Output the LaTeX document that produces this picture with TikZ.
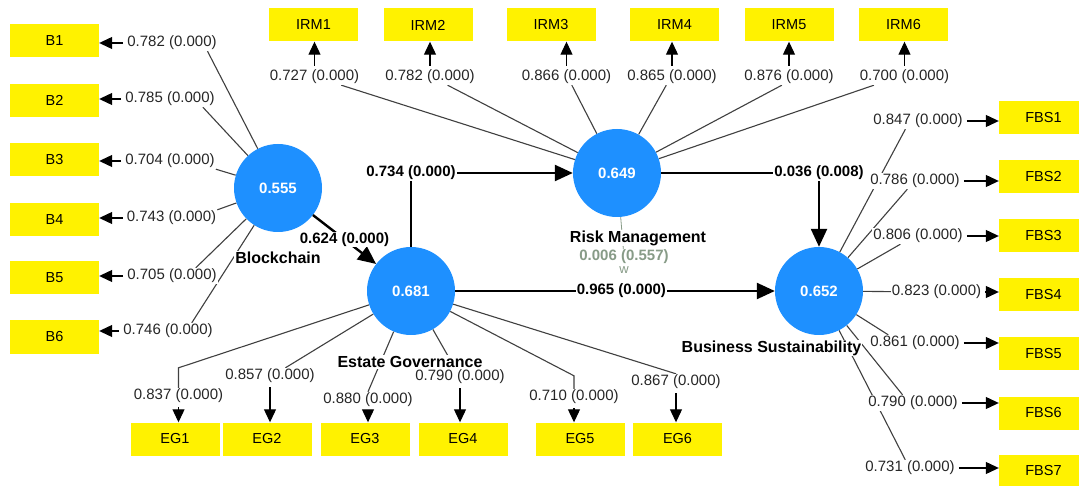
\documentclass[tikz,border=0pt]{standalone}
\usepackage{fontspec}
\setmainfont{Liberation Sans}
\usetikzlibrary{arrows.meta,backgrounds}
\definecolor{lvblue}{RGB}{30,144,255}
\definecolor{modgray}{RGB}{135,155,135}
\begin{document}
\begin{tikzpicture}[x=1pt, y=-1pt, >={Triangle[length=13pt, width=12pt]},
  lv/.style = {circle, fill=lvblue, minimum size=88pt, inner sep=0pt, text=white, font=\fontsize{15}{18}\selectfont\bfseries},
  mv/.style = {fill=yellow, minimum width=89pt, minimum height=33pt, inner sep=0pt, font=\fontsize{14.5}{17}\selectfont},
  ld/.style = {fill=white, inner sep=1pt, text=black!85, font=\fontsize{15}{18}\selectfont},
  pc/.style = {fill=white, inner sep=1pt, font=\fontsize{15}{18}\selectfont\bfseries},
  lvname/.style = {fill=white, inner sep=1pt, font=\fontsize{16}{19}\selectfont\bfseries},
  loading/.style = {line width=1.1pt, black!75},
  ind/.style = {->, line width=1.1pt, shorten <=3pt},
  pth/.style = {line width=2.4pt, -{Triangle[length=18pt, width=16pt]}}]
\useasboundingbox (0,0) rectangle (1079,486);

% latent variables
\node[lv] (bc) at (278,188) {0.555};
\node[lv] (eg) at (411,291) {0.681};
\node[lv] (rm) at (617,173) {0.649};
\node[lv] (bs) at (819,291) {0.652};
\node[lvname] (bcn) at (278,258) {Blockchain};
\node[lvname] (egn) at (410,362) {Estate Governance};
\node[lvname] (rmn) at (638,238) {Risk Management};
\node[lvname] (bsn) at (771.5,348) {Business Sustainability};

% indicators
\foreach \i/\y in {1/40.5,2/100.5,3/160,4/219.5,5/278,6/337}
  \node[mv] (B\i) at (54.5,\y) {B\i};
\foreach \i/\x in {1/313.5,2/428,3/551,4/674.5,5/789,6/903.5}
  \node[mv] (IRM\i) at (\x,25) {IRM\i};
\foreach \i/\x in {1/175,2/267,3/365,4/463,5/580,6/677.5}
  \node[mv] (EG\i) at (\x,439) {EG\i};
\foreach \i/\y in {1/118,2/177,3/235.5,4/294.5,5/353.5,6/413,7/471}
  \node[mv] (FBS\i) at (1043.5,\y) {FBS\i};

% loadings
\foreach \i/\x/\y/\lo in {1/172/43/0.782,2/170/99/0.785,3/170/161/0.704,4/171.5/218/0.743,5/172/276/0.705,6/168/331/0.746}
  \node[ld] (lB\i) at (\x,\y) {\lo{} (0.000)};
\foreach \i/\x/\lo in {1/314.5/0.727,2/430/0.782,3/566.5/0.866,4/672/0.865,5/789/0.876,6/904.5/0.700}
  \node[ld] (lIRM\i) at (\x,77) {\lo{} (0.000)};
\foreach \i/\x/\y/\lo in {1/178.5/396/0.837,2/270/376/0.857,3/368/400/0.880,4/460/377/0.790,5/574/397/0.710,6/676/382/0.867}
  \node[ld] (lEG\i) at (\x,\y) {\lo{} (0.000)};
\foreach \i/\x/\y/\lo in {1/918/121/0.847,2/915/181/0.786,3/918/236/0.806,4/936.5/292/0.823,5/915/343/0.861,6/913/403/0.790,7/910/468/0.731}
  \node[ld] (lFBS\i) at (\x,\y) {\lo{} (0.000)};
\node[ld, text=modgray, font=\fontsize{15}{18}\selectfont\bfseries] (mod) at (624,257) {0.006 (0.557)};
\node[text=modgray, inner sep=0pt, font=\fontsize{13}{14}\selectfont] (w) at (624,270) {w};

\begin{scope}[on background layer]
\fill[white] (0,0) rectangle (1079,486);
\foreach \i/\a in {1/-13,2/-14,3/south east,4/north east,5/19,6/19}
  \draw[loading] (bc) -- (lB\i.\a);
\foreach \i/\a in {1/-17,2/-25,3/-57,4/-125,5/-131,6/-165}
  \draw[loading] (rm) -- (lIRM\i.\a);
\draw[loading] (eg) -- ([yshift=20pt]lEG1.north) -- (lEG1.north);
\draw[loading] (eg) -- (lEG2.28);
\draw[loading] (eg) -- (lEG3.north);
\draw[loading] (eg) -- (lEG4);
\draw[loading] (eg) -- ([yshift=13pt]lEG5.north) -- (lEG5.north);
\draw[loading] (eg) -- (lEG6.north);
\foreach \i/\a in {1/-147,2/-133,3/-155,4/center,5/163,6/142,7/120}
  \draw[loading] (bs) -- (lFBS\i.\a);
\draw[modgray, line width=0.8pt] (rm) -- (mod);
\end{scope}

% arrows to indicators
\foreach \i in {1,...,6}
  \draw[ind] (lB\i) -- (lB\i -| B\i.east);
\foreach \i in {1,...,6}
  \draw[ind] (lIRM\i) -- (lIRM\i |- IRM\i.south);
\foreach \i in {1,...,6}
  \draw[ind] (lEG\i) -- (lEG\i |- EG\i.north);
\foreach \i in {1,...,7}
  \draw[ind] (lFBS\i) -- (lFBS\i -| FBS\i.west);

% structural paths
\draw[pth] (bc) -- node[pc]{0.624 (0.000)} (eg);
\draw[pth] (eg) |- node[pc, pos=0.5]{0.734 (0.000)} (rm);
\draw[pth] (rm) -| node[pc, pos=0.5]{0.036 (0.008)} (bs);
\draw[pth] (eg) -- node[pc, pos=0.52]{0.965 (0.000)} (bs);
\end{tikzpicture}
\end{document}
